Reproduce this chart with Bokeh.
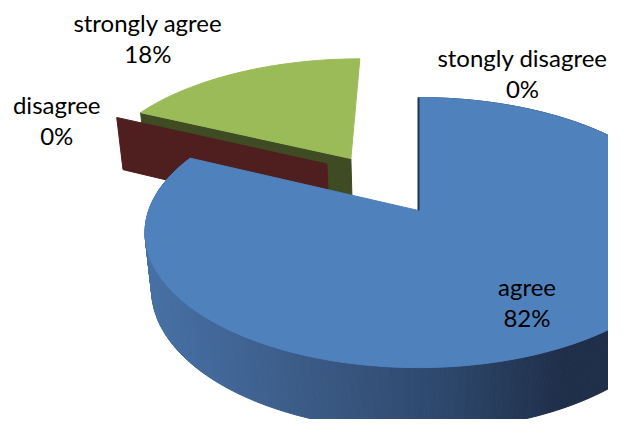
import numpy as np
from bokeh.plotting import figure
from bokeh.models import Range1d
from bokeh.embed import file_html
from bokeh.resources import INLINE
from bokeh.core.properties import value

# ---------------- data ----------------
categories = ["agree", "disagree", "strongly agree", "stongly disagree"]
values = [82, 0, 18, 0]
percent_labels = ["82%", "0%", "18%", "0%"]

# ---------------- style ----------------
TOP_COLOR = {"agree": "#4F81BD", "disagree": "#C0504D",
             "strongly agree": "#9BBB59", "stongly disagree": "#8064A2"}
FACE_COLOR = {"agree": "#2B4468", "disagree": "#4F1F1F",
              "strongly agree": "#3F4B23", "stongly disagree": "#1F3556"}
# explode: distance along the slice's mid angle, or explicit (X, Z) vector
EXPLODE_DIST = {"agree": 0.0, "strongly agree": 0.5, "stongly disagree": 0.0}
EXPLODE_VEC = {"disagree": (-0.36, 0.375)}
# label placement: radius factor along mid angle + pixel nudge
LABEL_POS = {"agree": (0.68, 0, 8), "strongly agree": (1.0, -91, -35),
             "disagree": (1.0, -60, 3), "stongly disagree": (1.0, 104, -25)}
FONT = "Lato"
FONT_SIZE = "24px"
LINE_GAP = 31

# camera / projection (3-D pie, 30 deg elevation, perspective)
ALPHA = np.radians(30.0)
DIST = 5.3
FX, FY = 1430.0, 1393.0
CX, CY = 418.0, 210.0
THICK = 0.255

W, H = 608, 419
p = figure(width=W, height=H, x_range=Range1d(0, W), y_range=Range1d(H, 0),
           output_backend="svg", toolbar_location=None, min_border=0,
           x_axis_location=None, y_axis_location=None)
p.grid.visible = False
p.outline_line_color = None
p.background_fill_color = "white"


def proj(X, Y, Z):
    X, Y, Z = np.asarray(X, float), np.asarray(Y, float), np.asarray(Z, float)
    sa, ca = np.sin(ALPHA), np.cos(ALPHA)
    vy = Y - DIST * sa
    vz = Z + DIST * ca
    zc = -vy * sa + vz * ca
    yc = vy * ca + vz * sa
    return CX + FX * X / zc, CY - FY * yc / zc, zc


# slice angles (clockwise from 12 o'clock)
total = float(sum(values))
starts, ends = [], []
acc = 0.0
for v in values:
    starts.append(acc)
    acc += 360.0 * v / total
    ends.append(acc)

offsets = {}
for c, a0, a1 in zip(categories, starts, ends):
    if c in EXPLODE_VEC:
        offsets[c] = EXPLODE_VEC[c]
    else:
        m = np.radians((a0 + a1) / 2)
        d = EXPLODE_DIST[c]
        offsets[c] = (d * np.sin(m), d * np.cos(m))


def side_color(sx):
    xs = [140, 300, 450, 560, 640]
    cs = np.array([(72, 114, 167), (60, 92, 136), (45, 71, 107), (32, 48, 75), (31, 47, 73)], float)
    r = np.interp(sx, xs, cs[:, 0]); g = np.interp(sx, xs, cs[:, 1]); b = np.interp(sx, xs, cs[:, 2])
    return "#%02x%02x%02x" % (int(r), int(g), int(b))


def radial_face(c, ang):
    ox, oz = offsets[c]
    a = np.radians(ang)
    X = [ox, ox + np.sin(a), ox + np.sin(a), ox]
    Z = [oz, oz + np.cos(a), oz + np.cos(a), oz]
    Y = [0, 0, -THICK, -THICK]
    sx, sy, _ = proj(X, Y, Z)
    return list(sx), list(sy)


def draw_slice(c, a0, a1, sides, faces):
    ox, oz = offsets[c]
    n = max(int(abs(a1 - a0) * 1.2), 2)
    th = np.radians(np.linspace(a0, a1, n))
    X = ox + np.sin(th)
    Z = oz + np.cos(th)
    tx, ty, tz = proj(X, np.zeros_like(X), Z)
    if sides:
        bx, by, bz = proj(X, -THICK * np.ones_like(X), Z)
        segs = []
        for i in range(n - 1):
            depth = (tz[i] + tz[i + 1]) / 2
            xs = [tx[i], tx[i + 1], bx[i + 1], bx[i]]
            ys = [ty[i], ty[i + 1], by[i + 1], by[i]]
            col = side_color((tx[i] + tx[i + 1]) / 2)
            segs.append((depth, xs, ys, col))
        segs.sort(key=lambda s: -s[0])
        p.patches([s[1] for s in segs], [s[2] for s in segs],
                  fill_color=[s[3] for s in segs], line_color=[s[3] for s in segs], line_width=1)
    for ang in faces:
        fx, fy = radial_face(c, ang)
        p.patch(fx, fy, fill_color=FACE_COLOR[c], line_color=FACE_COLOR[c], line_width=1)
    vx, vy, _ = proj(ox, 0, oz)
    px = [float(vx)] + list(tx) + [float(vx)]
    py = [float(vy)] + list(ty) + [float(vy)]
    p.patch(px, py, fill_color=TOP_COLOR[c], line_color=TOP_COLOR[c], line_width=1)


idx = {c: i for i, c in enumerate(categories)}

# back to front: strongly agree, disagree face, agree, stongly disagree edge
i = idx["strongly agree"]
draw_slice("strongly agree", starts[i], ends[i], False, [starts[i]])

i = idx["disagree"]
fx, fy = radial_face("disagree", starts[i])
p.patch(fx, fy, fill_color=FACE_COLOR["disagree"], line_color=FACE_COLOR["disagree"], line_width=1)

i = idx["agree"]
draw_slice("agree", starts[i], ends[i], True, [])

i = idx["stongly disagree"]
fx, fy = radial_face("stongly disagree", starts[i])
p.line(fx[:2], fy[:2], line_color=FACE_COLOR["stongly disagree"], line_width=2)

# labels
lx, ly1, ly2, t1, t2 = [], [], [], [], []
for c, a0, a1, lab in zip(categories, starts, ends, percent_labels):
    k, dx, dy = LABEL_POS[c]
    ox, oz = offsets[c]
    m = np.radians((a0 + a1) / 2)
    sx, sy, _ = proj(ox + k * np.sin(m), 0, oz + k * np.cos(m))
    cx, cy = float(sx) + dx, float(sy) + dy
    lx.append(cx); ly1.append(cy - LINE_GAP / 2); ly2.append(cy + LINE_GAP / 2)
    t1.append(c); t2.append(lab)

p.text(x=lx, y=ly1, text=t1, text_font=value(FONT), text_font_size=FONT_SIZE,
       text_align="center", text_baseline="middle", text_color="#000000")
p.text(x=lx, y=ly2, text=t2, text_font=value(FONT), text_font_size=FONT_SIZE,
       text_align="center", text_baseline="middle", text_color="#000000")

open("out.html", "w").write(file_html(p, INLINE))
